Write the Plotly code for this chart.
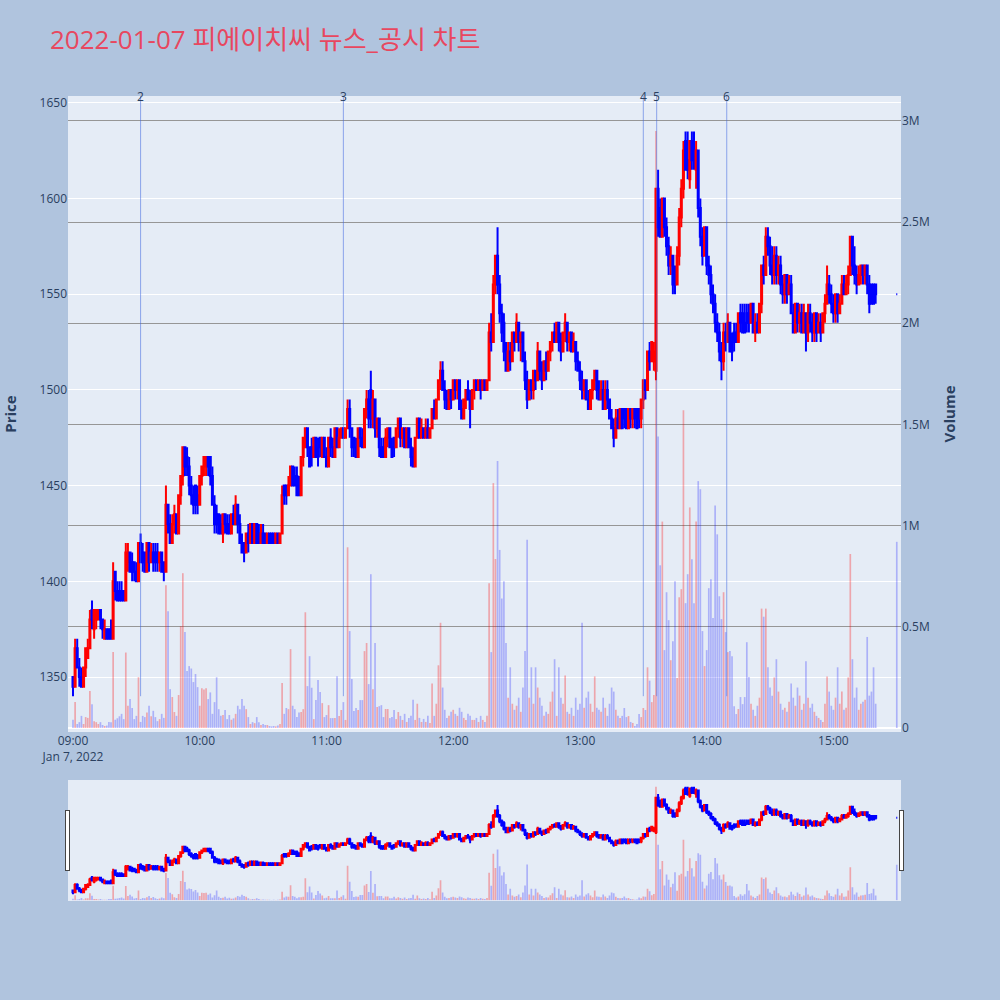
import pandas as pd
import plotly.graph_objects as go

# ---------------- data (1-minute candles, 2022-01-07) ----------------
minute_times = list(pd.date_range("2022-01-07 09:00", "2022-01-07 15:20", freq="1min").strftime("%Y-%m-%d %H:%M:%S"))
times = minute_times + ["2022-01-07 15:30:00"]

opens = [
    1350,1345,1365,1355,1350,1345,1355,1360,1365,1385,
    1375,1380,1380,1385,1380,1370,1375,1375,1375,1370,
    1405,1395,1395,1395,1395,1390,1410,1415,1410,1410,
    1405,1400,1420,1415,1415,1405,1420,1410,1415,1415,
    1415,1410,1415,1410,1405,1440,1430,1420,1430,1435,
    1425,1445,1455,1470,1465,1460,1450,1445,1450,1445,
    1440,1455,1460,1460,1465,1465,1455,1440,1435,1435,
    1430,1425,1435,1430,1430,1425,1435,1430,1440,1430,
    1420,1420,1415,1425,1420,1430,1420,1430,1425,1420,
    1425,1425,1420,1425,1425,1425,1420,1425,1420,1425,
    1450,1450,1445,1450,1460,1455,1455,1450,1445,1465,
    1470,1480,1470,1470,1465,1475,1470,1475,1465,1475,
    1465,1460,1475,1470,1465,1480,1470,1475,1480,1475,
    1480,1490,1480,1475,1470,1465,1480,1475,1470,1490,
    1495,1500,1485,1495,1480,1485,1470,1470,1465,1475,
    1480,1470,1475,1470,1480,1485,1475,1480,1470,1480,
    1470,1465,1460,1475,1485,1475,1480,1475,1480,1475,
    1480,1490,1485,1495,1505,1510,1500,1495,1490,1500,
    1495,1505,1500,1505,1490,1485,1495,1500,1495,1490,
    1500,1505,1500,1505,1500,1505,1500,1505,1530,1525,
    1555,1570,1555,1540,1535,1520,1510,1520,1515,1530,
    1525,1535,1525,1530,1515,1505,1495,1505,1500,1510,
    1505,1520,1510,1505,1515,1510,1520,1525,1530,1525,
    1535,1525,1520,1530,1535,1525,1530,1520,1525,1515,
    1510,1505,1500,1505,1495,1490,1500,1505,1510,1500,
    1495,1500,1490,1500,1495,1485,1480,1475,1485,1480,
    1490,1490,1490,1480,1490,1485,1490,1490,1490,1485,
    1495,1505,1500,1520,1515,1515,1510,1605,1595,1580,
    1600,1585,1575,1565,1570,1560,1555,1570,1590,1605,
    1630,1620,1610,1630,1625,1615,1625,1595,1580,1570,
    1585,1565,1560,1550,1545,1535,1530,1520,1515,1530,
    1525,1535,1525,1530,1530,1525,1540,1540,1535,1540,
    1540,1535,1545,1530,1535,1530,1545,1565,1560,1580,
    1575,1565,1560,1570,1560,1565,1555,1550,1560,1550,
    1555,1540,1530,1545,1535,1540,1530,1540,1530,1540,
    1535,1530,1540,1530,1535,1530,1540,1545,1555,1550,
    1545,1540,1550,1540,1545,1555,1550,1555,1560,1580,
    1565,1560,1555,1560,1565,1560,1565,1555,1555,1555,
    1555,
    1550,
]

highs = [
    1350,1370,1370,1360,1355,1355,1365,1370,1385,1390,
    1385,1385,1385,1385,1380,1380,1375,1375,1380,1410,
    1405,1400,1400,1400,1395,1420,1420,1415,1415,1410,
    1410,1420,1425,1420,1415,1420,1420,1420,1420,1420,
    1420,1415,1415,1410,1450,1440,1435,1435,1440,1435,
    1445,1455,1470,1470,1470,1465,1455,1450,1450,1450,
    1455,1460,1465,1465,1465,1465,1460,1445,1440,1435,
    1435,1435,1435,1435,1435,1435,1440,1445,1440,1435,
    1425,1420,1425,1430,1430,1430,1430,1430,1430,1430,
    1430,1425,1425,1425,1425,1425,1425,1425,1425,1450,
    1450,1450,1455,1460,1460,1460,1460,1455,1465,1475,
    1480,1480,1470,1475,1475,1475,1475,1475,1475,1475,
    1470,1475,1480,1475,1480,1480,1480,1480,1480,1480,
    1495,1495,1480,1475,1475,1480,1480,1480,1490,1500,
    1500,1510,1500,1495,1485,1485,1475,1475,1480,1480,
    1480,1475,1475,1480,1485,1485,1480,1480,1480,1480,
    1475,1470,1475,1485,1485,1485,1480,1485,1485,1480,
    1490,1495,1495,1505,1515,1515,1505,1500,1500,1500,
    1505,1505,1505,1505,1495,1495,1500,1505,1500,1500,
    1505,1505,1505,1505,1505,1505,1505,1535,1540,1560,
    1570,1585,1560,1545,1540,1525,1525,1525,1530,1530,
    1540,1535,1530,1530,1520,1510,1505,1505,1510,1510,
    1525,1520,1515,1515,1520,1520,1525,1530,1535,1535,
    1535,1530,1530,1540,1535,1530,1530,1530,1525,1520,
    1515,1510,1505,1505,1500,1500,1505,1510,1510,1505,
    1505,1505,1505,1505,1495,1490,1485,1490,1490,1490,
    1490,1490,1490,1490,1490,1490,1490,1490,1490,1495,
    1505,1505,1520,1525,1525,1525,1605,1615,1600,1600,
    1600,1590,1580,1575,1570,1565,1575,1595,1610,1630,
    1635,1635,1630,1635,1635,1630,1625,1600,1585,1585,
    1585,1570,1565,1555,1550,1540,1535,1525,1535,1535,
    1540,1535,1530,1535,1535,1540,1545,1545,1545,1545,
    1545,1545,1545,1540,1540,1545,1565,1570,1585,1585,
    1580,1575,1575,1575,1570,1570,1560,1560,1560,1560,
    1560,1545,1545,1545,1545,1545,1545,1540,1545,1545,
    1540,1540,1540,1540,1540,1540,1550,1565,1560,1555,
    1550,1550,1550,1550,1560,1560,1560,1565,1580,1580,
    1575,1565,1565,1565,1565,1565,1565,1560,1555,1555,
    1555,
    1550,
]

lows = [
    1340,1345,1355,1345,1345,1345,1350,1360,1365,1375,
    1370,1375,1380,1375,1370,1370,1370,1370,1370,1370,
    1390,1390,1390,1390,1390,1390,1405,1405,1400,1400,
    1400,1400,1410,1405,1405,1405,1405,1410,1405,1405,
    1405,1405,1405,1400,1405,1425,1420,1420,1425,1425,
    1425,1440,1450,1455,1455,1445,1440,1435,1435,1435,
    1440,1450,1455,1455,1455,1450,1440,1425,1425,1425,
    1425,1420,1425,1425,1425,1425,1430,1430,1425,1420,
    1415,1410,1415,1415,1420,1420,1420,1420,1420,1420,
    1420,1420,1420,1420,1420,1420,1420,1420,1420,1425,
    1440,1440,1445,1450,1450,1450,1445,1445,1445,1460,
    1470,1465,1460,1460,1465,1465,1460,1465,1465,1465,
    1460,1460,1465,1465,1465,1470,1470,1475,1475,1475,
    1480,1475,1465,1465,1465,1465,1470,1470,1470,1485,
    1480,1480,1480,1475,1475,1465,1465,1465,1465,1470,
    1470,1465,1465,1470,1475,1470,1470,1470,1470,1470,
    1460,1460,1460,1475,1475,1475,1475,1475,1475,1475,
    1480,1485,1485,1495,1500,1500,1490,1490,1490,1490,
    1495,1495,1495,1490,1485,1485,1490,1495,1480,1490,
    1495,1500,1500,1495,1500,1500,1500,1505,1520,1525,
    1550,1550,1535,1525,1515,1510,1510,1510,1515,1520,
    1525,1520,1515,1515,1500,1490,1495,1495,1495,1500,
    1505,1505,1500,1505,1505,1510,1515,1520,1525,1525,
    1520,1515,1520,1525,1520,1520,1520,1520,1510,1510,
    1500,1495,1495,1495,1490,1490,1495,1500,1495,1495,
    1495,1490,1490,1490,1485,1480,1470,1475,1480,1480,
    1480,1480,1480,1480,1480,1480,1480,1480,1480,1480,
    1490,1495,1500,1510,1515,1510,1505,1580,1580,1580,
    1580,1570,1560,1560,1550,1550,1555,1565,1585,1600,
    1615,1610,1605,1615,1615,1605,1590,1575,1565,1570,
    1560,1555,1545,1540,1530,1525,1515,1505,1510,1520,
    1525,1520,1515,1520,1525,1525,1530,1530,1530,1530,
    1530,1535,1530,1525,1530,1530,1540,1555,1560,1570,
    1560,1555,1555,1555,1555,1550,1545,1545,1545,1550,
    1540,1530,1530,1530,1530,1530,1530,1520,1525,1530,
    1525,1525,1525,1530,1525,1530,1535,1545,1545,1540,
    1535,1535,1535,1540,1545,1550,1550,1550,1560,1560,
    1555,1550,1555,1555,1555,1555,1550,1540,1545,1545,
    1545,
    1550,
]

closes = [
    1345,1365,1355,1350,1345,1355,1365,1365,1380,1380,
    1385,1385,1385,1380,1375,1375,1370,1370,1370,1400,
    1395,1390,1390,1390,1390,1415,1415,1405,1405,1405,
    1400,1420,1410,1410,1405,1420,1410,1415,1410,1410,
    1410,1415,1405,1405,1440,1430,1420,1430,1435,1425,
    1445,1455,1470,1460,1460,1450,1445,1440,1440,1440,
    1455,1460,1465,1465,1460,1455,1440,1430,1430,1425,
    1425,1435,1430,1425,1425,1435,1430,1440,1430,1420,
    1415,1415,1425,1420,1430,1420,1430,1420,1420,1425,
    1420,1420,1425,1420,1420,1420,1425,1420,1425,1445,
    1445,1445,1450,1460,1450,1450,1445,1445,1465,1475,
    1480,1470,1460,1465,1475,1465,1465,1470,1475,1465,
    1460,1475,1470,1465,1480,1470,1475,1480,1475,1480,
    1490,1480,1470,1470,1465,1480,1475,1470,1490,1495,
    1485,1485,1495,1480,1485,1470,1465,1465,1475,1480,
    1470,1465,1470,1480,1485,1475,1480,1470,1480,1470,
    1465,1460,1475,1485,1475,1480,1475,1480,1475,1480,
    1490,1485,1495,1505,1510,1500,1495,1490,1500,1495,
    1505,1500,1505,1490,1485,1495,1500,1495,1490,1500,
    1505,1500,1505,1500,1505,1500,1505,1530,1525,1555,
    1570,1555,1540,1530,1520,1510,1520,1515,1530,1525,
    1535,1525,1530,1515,1505,1495,1505,1500,1510,1505,
    1520,1510,1505,1515,1510,1520,1525,1530,1525,1535,
    1525,1520,1530,1535,1525,1530,1520,1525,1515,1510,
    1505,1500,1505,1495,1490,1500,1505,1510,1500,1495,
    1500,1490,1500,1495,1485,1480,1475,1485,1480,1490,
    1480,1485,1480,1490,1485,1490,1485,1480,1485,1495,
    1505,1500,1520,1515,1525,1520,1605,1585,1580,1600,
    1585,1575,1565,1570,1555,1555,1570,1590,1605,1625,
    1615,1615,1630,1620,1620,1625,1595,1580,1570,1585,
    1565,1560,1550,1545,1535,1530,1520,1515,1530,1525,
    1535,1520,1520,1525,1525,1540,1535,1530,1530,1535,
    1535,1545,1530,1535,1530,1545,1565,1560,1580,1575,
    1565,1560,1570,1560,1565,1555,1550,1560,1550,1555,
    1540,1530,1545,1535,1540,1530,1540,1530,1540,1535,
    1530,1540,1530,1535,1530,1540,1545,1555,1550,1545,
    1540,1550,1540,1545,1555,1550,1555,1560,1580,1565,
    1560,1555,1560,1565,1560,1565,1555,1545,1545,1545,
    1550,
    1550,
]

volumes = [
    41000,128000,20000,29000,60000,20000,54000,50000,183000,118000,
    34000,29000,20000,29000,15000,10000,12000,30000,29000,375000,
    41000,48000,58000,70000,44000,373000,110000,143000,99000,44000,
    60000,251000,30000,60000,54000,77000,110000,58000,85000,54000,
    34000,44000,70000,50000,705000,577000,192000,153000,79000,60000,
    163000,503000,765000,474000,282000,306000,294000,227000,267000,202000,
    110000,196000,190000,196000,143000,176000,70000,128000,251000,93000,
    60000,64000,89000,44000,64000,41000,48000,70000,110000,93000,
    143000,110000,93000,54000,20000,29000,24000,54000,29000,15000,
    20000,15000,15000,10000,8000,10000,8000,12000,20000,222000,
    70000,99000,93000,390000,110000,93000,54000,77000,79000,93000,
    572000,207000,355000,199000,44000,138000,237000,178000,123000,54000,
    64000,113000,49000,49000,49000,256000,59000,89000,128000,40000,
    893000,479000,242000,84000,99000,89000,138000,138000,380000,420000,
    217000,760000,192000,420000,104000,108000,113000,54000,94000,94000,
    49000,54000,89000,44000,79000,60000,40000,70000,30000,50000,
    60000,140000,40000,120000,50000,30000,45000,30000,60000,25000,
    220000,60000,120000,310000,520000,200000,90000,50000,60000,80000,
    90000,70000,60000,100000,80000,50000,40000,70000,60000,40000,
    40000,50000,30000,60000,40000,30000,60000,715000,375000,1210000,
    835000,1320000,880000,640000,725000,420000,150000,300000,120000,90000,
    110000,150000,80000,200000,380000,930000,150000,300000,120000,300000,
    200000,150000,110000,60000,80000,70000,130000,180000,340000,60000,
    300000,150000,120000,260000,80000,70000,100000,60000,150000,90000,
    120000,520000,100000,150000,180000,120000,80000,255000,100000,90000,
    80000,150000,100000,60000,120000,200000,180000,90000,60000,50000,
    60000,99000,54000,59000,30000,25000,10000,20000,69000,54000,
    99000,89000,300000,234000,128000,163000,2950000,1440000,804000,1020000,
    385000,671000,533000,335000,429000,725000,247000,646000,686000,1570000,
    617000,760000,1090000,834000,617000,1020000,1220000,1180000,479000,306000,
    385000,691000,735000,543000,1100000,957000,651000,538000,671000,474000,
    375000,380000,355000,108000,69000,94000,153000,118000,153000,424000,
    252000,120000,90000,60000,110000,150000,590000,550000,590000,300000,
    200000,160000,250000,340000,180000,120000,90000,100000,80000,130000,
    220000,150000,110000,200000,160000,90000,120000,330000,150000,100000,
    120000,80000,60000,50000,40000,30000,120000,255000,180000,110000,
    90000,150000,300000,120000,180000,90000,100000,250000,860000,340000,
    150000,200000,90000,120000,130000,140000,450000,160000,180000,300000,
    120000,
    920000,
]

news_times = ["2022-01-07 09:32:00", "2022-01-07 11:08:00", "2022-01-07 13:30:00",
              "2022-01-07 13:36:20", "2022-01-07 14:09:30"]
news_labels = ["2", "3", "4", "5", "6"]

title_text = "2022-01-07 피에이치씨 뉴스_공시 차트"

# ---------------- figure ----------------
x_range = ["2022-01-07 08:57:38", "2022-01-07 15:32:00"]
price_range = [1321.3, 1653.5]
volume_range = [-19700, 3123000]

vol_colors = ["rgba(255,0,0,0.3)" if c > o else "rgba(0,0,255,0.25)" for o, c in zip(opens, closes)]

fig = go.Figure()
fig.add_trace(go.Candlestick(
    x=times, open=opens, high=highs, low=lows, close=closes, name="Price",
    increasing=dict(line=dict(color="red"), fillcolor="red"),
    decreasing=dict(line=dict(color="blue"), fillcolor="blue"),
    yaxis="y",
))
fig.add_trace(go.Bar(x=times, y=volumes, marker=dict(color=vol_colors, line=dict(width=0)),
                     name="Volume", yaxis="y2"))

shapes = []
annotations = []
for t, lab in zip(news_times, news_labels):
    shapes.append(dict(type="line", xref="x", yref="y", x0=t, x1=t, y0=min(lows), y1=price_range[1],
                       line=dict(color="royalblue", width=1), opacity=0.55, layer="above"))
    annotations.append(dict(x=t, xref="x", y=1, yref="paper", text=lab, showarrow=False,
                            yanchor="middle", xanchor="center",
                            font=dict(size=12, color="#2a3f5f")))

fig.update_layout(
    width=1000, height=1000,
    paper_bgcolor="lightsteelblue",
    plot_bgcolor="#E5ECF6",
    showlegend=False,
    margin=dict(l=68, r=99, t=96, b=100),
    font=dict(family="Open Sans, Noto Sans CJK KR, sans-serif"),
    title=dict(text=title_text, x=0.05, xanchor="left", y=0.96, yanchor="middle",
               font=dict(size=26, color="#e8475f", family="Open Sans, Noto Sans CJK KR, sans-serif")),
    xaxis=dict(range=x_range, showgrid=False, type="date",
               rangeslider=dict(visible=True, range=x_range, bgcolor="#E5ECF6", thickness=0.15)),
    yaxis=dict(range=price_range, gridcolor="white", zeroline=False, automargin=False,
               title=dict(text="<b>Price</b>", font=dict(size=15), standoff=22)),
    yaxis2=dict(range=volume_range, overlaying="y", side="right", showgrid=True,
                gridcolor="#969696", gridwidth=1, zeroline=True, zerolinecolor="white", zerolinewidth=2,
                title=dict(text="<b>Volume</b>", font=dict(size=15))),
    shapes=shapes,
    annotations=annotations,
)

fig.write_html("out.html", config={"displayModeBar": False},
               post_script="document.body.style.margin='0px';")
